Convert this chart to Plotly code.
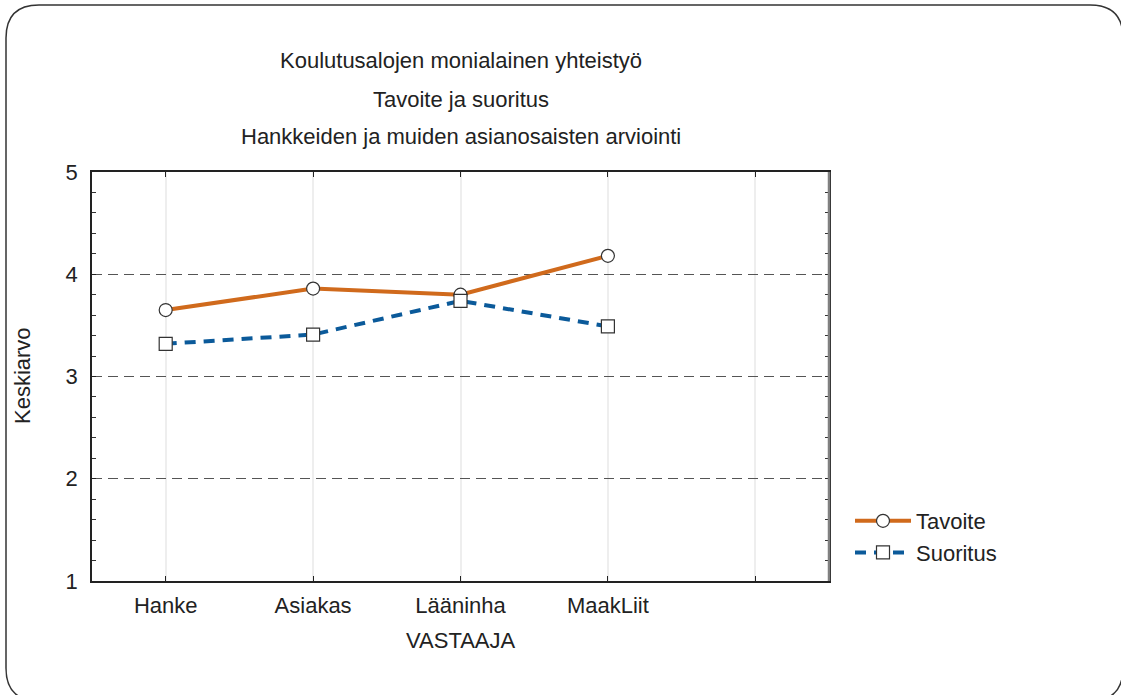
import plotly.graph_objects as go

categories = ["Hanke", "Asiakas", "Lääninha", "MaakLiit", ""]
tavoite = [3.65, 3.86, 3.80, 4.18]
suoritus = [3.32, 3.41, 3.74, 3.49]
y_ticks = [1, 2, 3, 4, 5]
title_lines = ["Koulutusalojen monialainen yhteistyö", "Tavoite ja suoritus",
               "Hankkeiden ja muiden asianosaisten arviointi"]

W, H = 1121, 695
L, R, T, B = 92, 292, 172, 114
PW, PH = W - L - R, H - T - B


def px_x(px):
    return (px - L) / PW


def px_y(py):
    return (H - B - py) / PH


FONT = "Liberation Sans, Arial, sans-serif"
FS = 22
TXT = "#222222"
ORANGE = "#d06a1c"
BLUE = "#0b5a9a"

xs = list(range(len(categories)))

fig = go.Figure()
fig.add_trace(go.Scatter(
    x=xs[:len(tavoite)], y=tavoite, name="Tavoite", mode="lines+markers",
    line=dict(color=ORANGE, width=4),
    marker=dict(symbol="circle", size=13, color="white",
                line=dict(color="#333333", width=1.2)),
))
fig.add_trace(go.Scatter(
    x=xs[:len(suoritus)], y=suoritus, name="Suoritus", mode="lines+markers",
    line=dict(color=BLUE, width=4, dash="11px,8px"),
    marker=dict(symbol="square", size=13, color="white",
                line=dict(color="#333333", width=1.2)),
))

fig.update_xaxes(
    range=[-0.5, len(categories) - 0.5],
    tickmode="array", tickvals=xs, ticktext=categories,
    showgrid=True, gridcolor="#eeeeee", gridwidth=1.5,
    zeroline=False,
    showline=True, linecolor="#222222", linewidth=1.5, mirror="ticks",
    ticks="inside", ticklen=5, tickcolor="#222222",
    tickfont=dict(family=FONT, size=FS, color=TXT),
    ticklabelstandoff=4,
)
fig.update_yaxes(
    range=[1, 5], tickmode="array", tickvals=y_ticks,
    showgrid=True, gridcolor="#555555", gridwidth=1.2, griddash="10px,6px",
    zeroline=False,
    showline=True, linecolor="#222222", linewidth=1.5, mirror="ticks",
    ticks="inside", ticklen=4, tickcolor="#222222",
    minor=dict(dtick=0.2, ticks="inside", ticklen=4, tickcolor="#333333", showgrid=False),
    tickfont=dict(family=FONT, size=FS, color=TXT),
    ticklabelstandoff=8,
)

# right axis line appears grey and thicker
fig.add_shape(type="line", xref="paper", yref="paper", x0=1, x1=1, y0=0, y1=1,
              line=dict(color="#808080", width=2.5))

annotations = []
for txt, py in zip(title_lines, [61, 99, 136]):
    annotations.append(dict(text=txt, x=px_x(460.5), y=px_y(py), xref="paper", yref="paper",
                            showarrow=False, xanchor="center", yanchor="middle",
                            font=dict(family=FONT, size=FS, color=TXT)))
annotations.append(dict(text="Keskiarvo", x=px_x(22), y=px_y(376), xref="paper", yref="paper",
                        showarrow=False, textangle=-90, xanchor="center", yanchor="middle",
                        font=dict(family=FONT, size=FS, color=TXT)))
annotations.append(dict(text="VASTAAJA", x=px_x(460.5), y=px_y(640), xref="paper", yref="paper",
                        showarrow=False, xanchor="center", yanchor="middle",
                        font=dict(family=FONT, size=FS, color=TXT)))

# rounded outer border
x0, x1, y0, y1, r = px_x(6), px_x(1123), px_y(5), px_y(701), 33
rx, ry = r / PW, r / PH
path = (f"M {x0+rx},{y0} L {x1-rx},{y0} Q {x1},{y0} {x1},{y0-ry} "
        f"L {x1},{y1+ry} Q {x1},{y1} {x1-rx},{y1} L {x0+rx},{y1} Q {x0},{y1} {x0},{y1+ry} "
        f"L {x0},{y0-ry} Q {x0},{y0} {x0+rx},{y0} Z")
fig.add_shape(type="path", path=path, xref="paper", yref="paper",
              line=dict(color="#333333", width=1.5), layer="below")

fig.update_layout(
    width=W, height=H,
    margin=dict(l=L, r=R, t=T, b=B),
    paper_bgcolor="white", plot_bgcolor="white",
    showlegend=True,
    legend=dict(x=px_x(850), y=px_y(500), xanchor="left", yanchor="top",
                font=dict(family=FONT, size=FS, color=TXT),
                bgcolor="rgba(0,0,0,0)", itemwidth=56, tracegroupgap=0),
    annotations=annotations,
)

fig.write_html("out.html", config={"displayModeBar": False},
               post_script="document.body.style.margin='0';document.body.style.padding='0';")
